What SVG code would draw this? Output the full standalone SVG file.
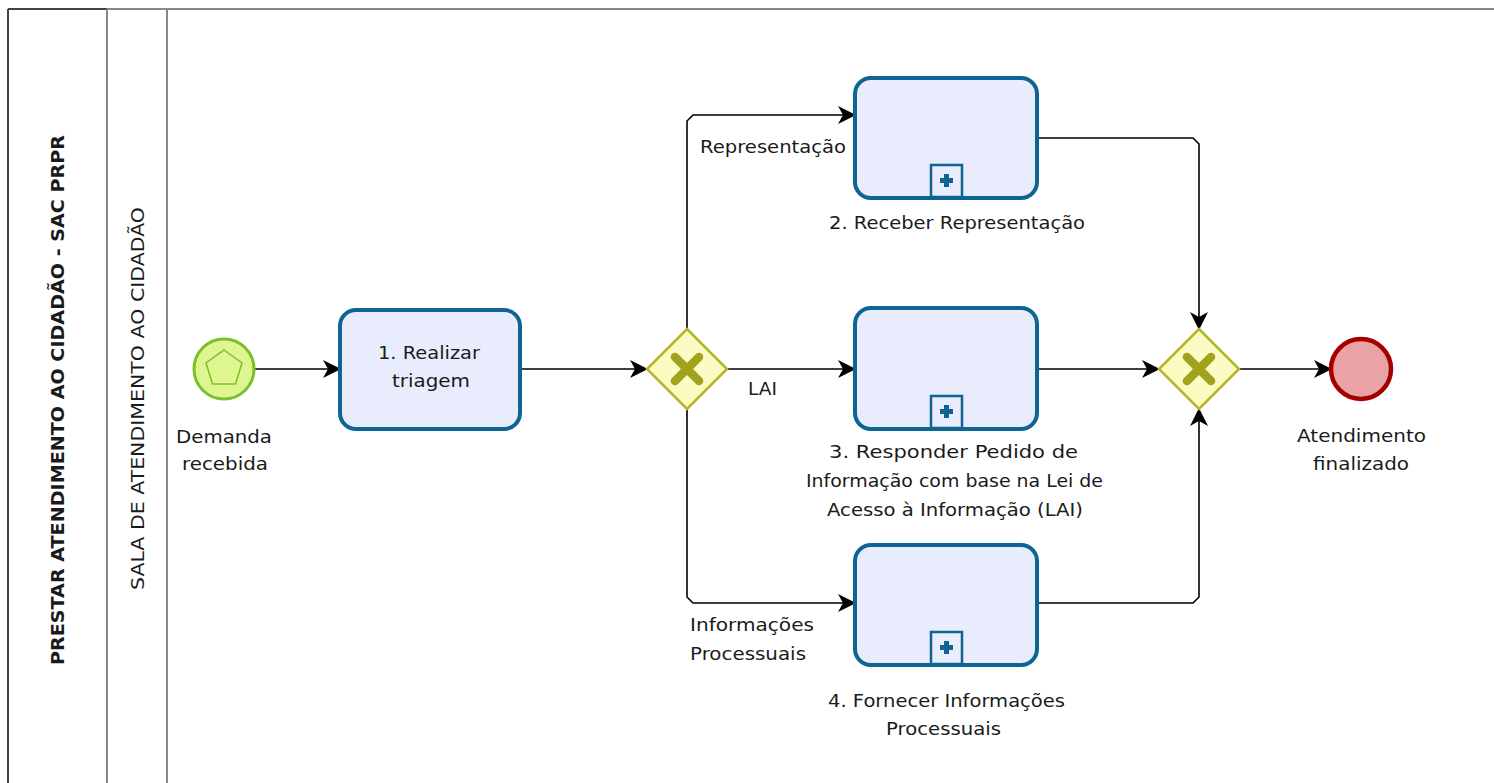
<svg xmlns="http://www.w3.org/2000/svg" width="1494" height="783" viewBox="0 0 1494 783">
<style>
text{font-family:"DejaVu Sans","Noto Sans",sans-serif;font-size:17px;fill:#1a1a1a}
.lbl{text-anchor:middle}
.task{fill:#e8ecfd;stroke:#0e6594;stroke-width:4}
.gw{fill:#fbfbc4;stroke:#b4b428;stroke-width:2.5}
.gx{stroke:#a3a21c;stroke-width:8.5;stroke-linecap:round}
.flow{fill:none;stroke:#000;stroke-width:1.6}
.sub{fill:#e8ecfd;stroke:#0e6594;stroke-width:2.5}
.subp{fill:#0e6594}
</style>
<defs>
<marker id="arr" markerWidth="19" markerHeight="18" refX="17" refY="9" orient="auto" markerUnits="userSpaceOnUse">
<path d="M0,0 L18,9 L0,18 L5,9 Z" fill="#000"/>
</marker>
</defs>
<rect width="1494" height="783" fill="#fff"/>
<g id="pool">
<line x1="8" y1="9" x2="1494" y2="9" stroke="#888" stroke-width="2"/>
<line x1="8" y1="9" x2="8" y2="783" stroke="#444" stroke-width="2"/>
<line x1="8" y1="9" x2="107" y2="9" stroke="#444" stroke-width="2"/>
<line x1="107" y1="9" x2="107" y2="783" stroke="#888" stroke-width="2"/>
<line x1="167" y1="9" x2="167" y2="783" stroke="#888" stroke-width="2"/>
<text transform="translate(64,400) rotate(-90)" font-weight="bold" text-anchor="middle" textLength="530" lengthAdjust="spacingAndGlyphs">PRESTAR ATENDIMENTO AO CIDADÃO - SAC PRPR</text>
<text transform="translate(144,398.5) rotate(-90)" text-anchor="middle" textLength="383" lengthAdjust="spacingAndGlyphs">SALA DE ATENDIMENTO AO CIDADÃO</text>
</g>
<g id="connectors">
<path class="flow" d="M254,369 L340,369" marker-end="url(#arr)"/>
<path class="flow" d="M520,369 L647,369" marker-end="url(#arr)"/>
<path class="flow" d="M687,329 L687,121 L693,115 L855,115" marker-end="url(#arr)"/>
<path class="flow" d="M727,369 L855,369" marker-end="url(#arr)"/>
<path class="flow" d="M687,409 L687,597 L693,603 L855,603" marker-end="url(#arr)"/>
<path class="flow" d="M1037,138 L1193,138 L1199,144 L1199,329" marker-end="url(#arr)"/>
<path class="flow" d="M1037,369 L1159,369" marker-end="url(#arr)"/>
<path class="flow" d="M1037,603 L1193,603 L1199,597 L1199,409" marker-end="url(#arr)"/>
<path class="flow" d="M1239,369 L1331,369" marker-end="url(#arr)"/>
<text x="700" y="153" textLength="146" lengthAdjust="spacingAndGlyphs">Representação</text>
<text x="748" y="395" textLength="29" lengthAdjust="spacingAndGlyphs">LAI</text>
<text x="690" y="631" textLength="124" lengthAdjust="spacingAndGlyphs">Informações</text>
<text x="690" y="660" textLength="116" lengthAdjust="spacingAndGlyphs">Processuais</text>
</g>
<g id="start">
<circle cx="224" cy="369" r="30" fill="#dff590" stroke="#7cbf2c" stroke-width="3"/>
<polygon points="224,350 242,363 235.5,384 212.5,384 206,363" fill="none" stroke="#7cbf2c" stroke-width="1.5"/>
<text class="lbl" x="224" y="443" textLength="96" lengthAdjust="spacingAndGlyphs">Demanda</text>
<text class="lbl" x="225" y="470" textLength="86" lengthAdjust="spacingAndGlyphs">recebida</text>
</g>
<g id="task1">
<rect class="task" x="340" y="310" width="180" height="119" rx="16"/>
<text class="lbl" x="429" y="359" textLength="102" lengthAdjust="spacingAndGlyphs">1. Realizar</text>
<text class="lbl" x="431" y="387" textLength="78" lengthAdjust="spacingAndGlyphs">triagem</text>
</g>
<g id="gw1">
<polygon class="gw" points="687,329 727,369 687,409 647,369"/>
<line class="gx" x1="675" y1="357" x2="699" y2="381"/>
<line class="gx" x1="699" y1="357" x2="675" y2="381"/>
</g>
<g id="task2">
<rect class="task" x="855" y="78" width="182" height="120" rx="16"/>
<rect class="sub" x="931" y="165" width="31" height="32"/>
<rect class="subp" x="940" y="178" width="13" height="5"/>
<rect class="subp" x="944" y="174" width="5" height="13"/>
<text class="lbl" x="957" y="229" textLength="256" lengthAdjust="spacingAndGlyphs">2. Receber Representação</text>
</g>
<g id="task3">
<rect class="task" x="855" y="308" width="182" height="121" rx="16"/>
<rect class="sub" x="931" y="396" width="31" height="32"/>
<rect class="subp" x="940" y="409" width="13" height="5"/>
<rect class="subp" x="944" y="405" width="5" height="13"/>
<text class="lbl" x="953.5" y="458" textLength="249" lengthAdjust="spacingAndGlyphs">3. Responder Pedido de</text>
<text class="lbl" x="954.5" y="487" textLength="297" lengthAdjust="spacingAndGlyphs">Informação com base na Lei de</text>
<text class="lbl" x="955" y="516" textLength="256" lengthAdjust="spacingAndGlyphs">Acesso à Informação (LAI)</text>
</g>
<g id="task4">
<rect class="task" x="855" y="545" width="182" height="120" rx="16"/>
<rect class="sub" x="931" y="632" width="31" height="32"/>
<rect class="subp" x="940" y="645" width="13" height="5"/>
<rect class="subp" x="944" y="641" width="5" height="13"/>
<text class="lbl" x="946.5" y="707" textLength="237" lengthAdjust="spacingAndGlyphs">4. Fornecer Informações</text>
<text class="lbl" x="943.5" y="735" textLength="115" lengthAdjust="spacingAndGlyphs">Processuais</text>
</g>
<g id="gw2">
<polygon class="gw" points="1199,329 1239,369 1199,409 1159,369"/>
<line class="gx" x1="1187" y1="357" x2="1211" y2="381"/>
<line class="gx" x1="1211" y1="357" x2="1187" y2="381"/>
</g>
<g id="end">
<circle cx="1361" cy="369" r="30" fill="#eaa3a5" stroke="#a50000" stroke-width="4.5"/>
<text class="lbl" x="1361.5" y="442" textLength="129" lengthAdjust="spacingAndGlyphs">Atendimento</text>
<text class="lbl" x="1361" y="470" textLength="96" lengthAdjust="spacingAndGlyphs">finalizado</text>
</g>
</svg>
